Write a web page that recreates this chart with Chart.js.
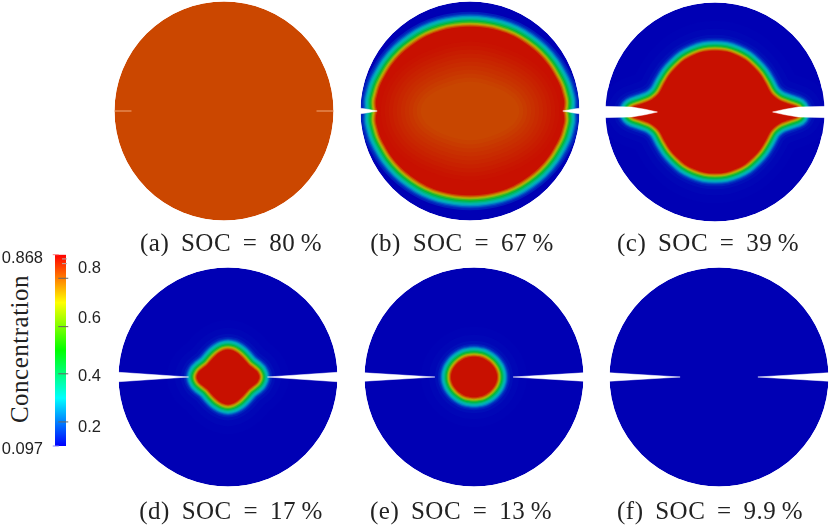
<!DOCTYPE html>
<html>
<head>
<meta charset="utf-8">
<script src="https://cdn.jsdelivr.net/npm/chart.js"></script>
<style>
html, body { margin: 0; background: #fff; overflow: hidden; width: 830px; height: 529px; }
canvas { position: absolute; }
.cap { position: absolute; transform: translate(-50%, -50%); white-space: nowrap;
  font: 25px "Liberation Serif", serif; letter-spacing: 0.5px; word-spacing: 5px; color: #222; }
#barTitle { position: absolute; left: 20px; top: 349px; transform: translate(-50%, -50%) rotate(-90deg);
  white-space: nowrap; font: 25px "Liberation Serif", serif; letter-spacing: 0.5px; color: #222; }
</style>
</head>
<body>
<div id="barTitle">Concentration</div>
<script>
// captions
const captions = ["(a) SOC = 80\u2009%", "(b) SOC = 67\u2009%", "(c) SOC = 39\u2009%",
	"(d) SOC = 17\u2009%", "(e) SOC = 13\u2009%", "(f) SOC = 9.9\u2009%"];

// edge of the red core, radius as fraction of the disc radius, one quadrant
const contourAngles = [0, 3, 6, 10, 15, 20, 30, 40, 50, 60, 70, 80, 90];
const redEdgeB = [0.85, 0.86, 0.865, 0.86, 0.855, 0.845, 0.83, 0.815, 0.80, 0.79, 0.78, 0.772, 0.77];
const coreEdgeB = [0.45, 0.448, 0.445, 0.435, 0.42, 0.40, 0.36, 0.325, 0.30, 0.285, 0.275, 0.27, 0.27];
const redEdgeC = [0.78, 0.76, 0.68, 0.60, 0.555, 0.535, 0.53, 0.535, 0.54, 0.55, 0.555, 0.56, 0.56];
const redEdgeD = [0.285, 0.283, 0.278, 0.27, 0.255, 0.24, 0.22, 0.215, 0.218, 0.225, 0.235, 0.245, 0.25];
const redEdgeE = [0.21, 0.21, 0.21, 0.209, 0.207, 0.205, 0.20, 0.196, 0.192, 0.19, 0.188, 0.185, 0.185];

// left crack outlines, the right one is the mirror image
const crackXB = [-1.03, -0.95, -0.847, -0.95, -1.03];
const crackYB = [0.03, 0.018, 0, -0.018, -0.03];
const crackXC = [-1.03, -0.76, -0.64, -0.526, -0.64, -0.76, -1.03];
const crackYC = [0.052, 0.045, 0.025, 0, -0.025, -0.045, -0.052];
const crackXD = [-1.03, -0.36, -1.03];
const crackYD = [0.045, 0, -0.045];
const crackXE = [-1.03, -0.357, -1.03];
const crackYE = [0.04, 0, -0.04];
const crackXF = [-1.03, -0.355, -1.03];
const crackYF = [0.04, 0, -0.04];
const crackXA = [-1, -0.845];
const crackYA = [0, 0];

// colour bar
const barRange = [0.097, 0.868];
const barStops = [0.097, 0.29, 0.4825, 0.675, 0.868];
const barStopColors = ["#0000ff", "#00ffff", "#00ff00", "#ffff00", "#ff0000"];
const rightLabels = ["0.8", "0.6", "0.4", "0.2"];
const rightLabelAt = [0.814, 0.612, 0.378, 0.172];
const leftLabels = ["0.868", "0.097"];
const leftLabelAt = [0.8547, 0.0837];
const majorTicks = [0.773, 0.578, 0.388, 0.194];
const minorTicks = [0.851, 0.832, 0.812, 0.793, 0.753, 0.734, 0.714, 0.695, 0.675, 0.656, 0.636, 0.617, 0.597,
	0.558, 0.539, 0.519, 0.5, 0.48, 0.46, 0.441, 0.421, 0.402, 0.368, 0.349, 0.33, 0.31, 0.291, 0.272, 0.252,
	0.233, 0.213, 0.175, 0.155, 0.136, 0.116];

// bands round the core, px outwards from the red edge
const ringOffsets = [30, 22, 16, 13, 11.5, 10.5, 9.5, 8.5, 7.5, 6.5, 5.5, 4.5, 3.5, 2.7, 1.9, 1];
const ringColors = ["#0002b5", "#0006b6", "#000eb8", "#0020bc", "#0038c0", "#0060c4", "#0090c4", "#00b0b8",
	"#00b8a0", "#00b870", "#00b840", "#40b820", "#90b810", "#b8a808", "#c87800", "#c84000"];
const coreOffsets = [40, 36, 32, 28, 24, 20, 16, 12, 8, 4];
const coreColors = ["#c81300", "#c81700", "#c81c00", "#c82100", "#c82600", "#c82b00", "#c83000", "#c83500",
	"#c83b00", "#c84100"];

const DISC = "#0000b4", RED = "#c81000", ORANGE = "#cb4700";
const R = 109.5, BOX = 242;

const panels = [
	{ cx: 224, cy: 110.5, capX: 231, capY: 243, disc: ORANGE, crackX: crackXA, crackY: crackYA, thin: true },
	{ cx: 469.5, cy: 111, capX: 462, capY: 243, disc: DISC, red: redEdgeB, core: coreEdgeB, crackX: crackXB, crackY: crackYB, ring: 1.15, skip: 3 },
	{ cx: 715, cy: 111.5, capX: 708, capY: 243, disc: DISC, red: redEdgeC, crackX: crackXC, crackY: crackYC, ring: 1, skip: 0 },
	{ cx: 228, cy: 376.5, capX: 231, capY: 511, disc: DISC, red: redEdgeD, crackX: crackXD, crackY: crackYD, ring: 1, skip: 0 },
	{ cx: 473.5, cy: 376.5, capX: 461, capY: 511, disc: DISC, red: redEdgeE, crackX: crackXE, crackY: crackYE, ring: 1, skip: 0 },
	{ cx: 719, cy: 376.5, capX: 710, capY: 511, disc: DISC, crackX: crackXF, crackY: crackYF }
];

function closedContour(radii) {
	let pts = [];
	let n = contourAngles.length;
	const add = (deg, r) => pts.push({ x: r * Math.cos(deg * Math.PI / 180), y: r * Math.sin(deg * Math.PI / 180) });
	for (let i = 0; i < n; i++) add(contourAngles[i], radii[i]);
	for (let i = n - 2; i >= 0; i--) add(180 - contourAngles[i], radii[i]);
	for (let i = 1; i < n; i++) add(180 + contourAngles[i], radii[i]);
	for (let i = n - 2; i >= 0; i--) add(360 - contourAngles[i], radii[i]);
	return pts;
}

function band(points, color, width) {
	return {
		data: points, showLine: true, pointRadius: 0, tension: 0.35, fill: "shape",
		backgroundColor: color, borderColor: color, borderWidth: width,
		borderJoinStyle: "round", borderCapStyle: "round"
	};
}

function crack(xs, ys, sign, thin) {
	let pts = xs.map((x, i) => ({ x: x * sign, y: ys[i] }));
	if (thin) return { data: pts, showLine: true, pointRadius: 0, borderColor: "#f0a878", borderWidth: 1, fill: false };
	return { data: pts, showLine: true, pointRadius: 0, tension: 0, fill: "shape",
		backgroundColor: "#fff", borderColor: "#fff", borderWidth: 0.5 };
}

function panelDatasets(p) {
	let sets = [];
	// whole disc
	sets.push({ data: [{ x: 0, y: 0 }], pointRadius: R, pointBackgroundColor: p.disc, pointBorderWidth: 0 });
	if (p.red) {
		let edge = closedContour(p.red);
		ringOffsets.forEach((o, i) => { if (i >= p.skip) sets.push(band(edge, ringColors[i], 2 * o * p.ring)); });
		sets.push(band(edge, RED, 0));
	}
	if (p.core) {
		let inner = closedContour(p.core);
		coreOffsets.forEach((o, i) => sets.push(band(inner, coreColors[i], 2 * o)));
		sets.push(band(inner, "#c84600", 0));
	}
	// keep the wide bands inside the rim, out to the canvas corners
	sets.push({ data: [{ x: 0, y: 0 }], pointRadius: R + 33, pointBackgroundColor: "rgba(0,0,0,0)",
		pointBorderColor: "#fff", pointBorderWidth: 66 });
	sets.push(crack(p.crackX, p.crackY, 1, p.thin));
	sets.push(crack(p.crackX, p.crackY, -1, p.thin));
	sets.forEach((s, i) => { s.order = sets.length - i; s.clip = false; });
	return sets;
}

panels.forEach((p, i) => {
	let c = document.createElement("canvas");
	c.width = BOX; c.height = BOX;
	c.style.left = (p.cx - BOX / 2) + "px";
	c.style.top = (p.cy - BOX / 2) + "px";
	c.style.width = BOX + "px";
	c.style.height = BOX + "px";
	document.body.appendChild(c);
	let range = BOX / 2 / R;
	new Chart(c, {
		type: "scatter",
		data: { datasets: panelDatasets(p) },
		options: {
			responsive: false, animation: false, events: [],
			layout: { padding: 0, autoPadding: false },
			plugins: { legend: { display: false }, tooltip: { enabled: false },
				filler: { propagate: false, drawTime: "beforeDatasetDraw" } },
			scales: {
				x: { type: "linear", min: -range, max: range, display: false },
				y: { type: "linear", min: -range, max: range, display: false }
			}
		}
	});
	let d = document.createElement("div");
	d.className = "cap";
	d.textContent = captions[i];
	d.style.left = p.capX + "px";
	d.style.top = p.capY + "px";
	document.body.appendChild(d);
});

// colour bar chart
const barCanvas = document.createElement("canvas");
barCanvas.width = 110; barCanvas.height = 220;
barCanvas.style.left = "0px"; barCanvas.style.top = "240px";
barCanvas.style.width = "110px"; barCanvas.style.height = "220px";
document.body.appendChild(barCanvas);

function barFill(ctx) {
	const chart = ctx.chart, area = chart.chartArea;
	if (!area) return barStopColors[0];
	const g = chart.ctx.createLinearGradient(0, area.bottom, 0, area.top);
	barStops.forEach((v, i) => g.addColorStop((v - barRange[0]) / (barRange[1] - barRange[0]), barStopColors[i]));
	return g;
}

function tickSet(values, x, radius, color) {
	return { type: "scatter", xAxisID: "x", yAxisID: "y", clip: false, order: 1,
		data: values.map(v => ({ x: x, y: v })), pointStyle: "line", pointRadius: radius,
		pointBorderColor: color, pointBorderWidth: 1 };
}

function fixAxis(width) {
	return s => { s.width = width; s.paddingTop = 0; s.paddingBottom = 0; };
}

new Chart(barCanvas, {
	type: "bar",
	data: {
		datasets: [
			{ data: [{ x: 0.5, y: barRange }], backgroundColor: barFill, barThickness: 11, order: 2, xAxisID: "x", yAxisID: "y" },
			tickSet(minorTicks, 1.227, 2.5, "#b0b0b0"),
			tickSet(majorTicks, 1, 5, "#666666"),
			tickSet([barRange[1]], -0.36, 3, "#ff8080"),
			tickSet([barRange[0]], -0.36, 3, "#8080ff")
		]
	},
	options: {
		responsive: false, animation: false, events: [],
		layout: { padding: { top: 14.7, bottom: 14 }, autoPadding: false },
		plugins: { legend: { display: false }, tooltip: { enabled: false } },
		scales: {
			x: { type: "linear", min: 0, max: 1, display: false },
			y: {
				position: "right", min: barRange[0], max: barRange[1],
				grid: { display: false }, border: { display: false },
				afterBuildTicks: s => { s.ticks = rightLabelAt.map(v => ({ value: v })); },
				afterFit: fixAxis(44),
				ticks: { autoSkip: false, padding: 4, color: "#222", font: { family: "Liberation Sans", size: 16.5 },
					callback: (v, i) => rightLabels[i] }
			},
			yl: {
				position: "left", min: barRange[0], max: barRange[1],
				grid: { display: false }, border: { display: false },
				afterBuildTicks: s => { s.ticks = leftLabelAt.map(v => ({ value: v })); },
				afterFit: fixAxis(55),
				ticks: { autoSkip: false, padding: 4, color: "#222", font: { family: "Liberation Sans", size: 16.5 },
					callback: (v, i) => leftLabels[i] }
			}
		}
	}
});
</script>
</body>
</html>
